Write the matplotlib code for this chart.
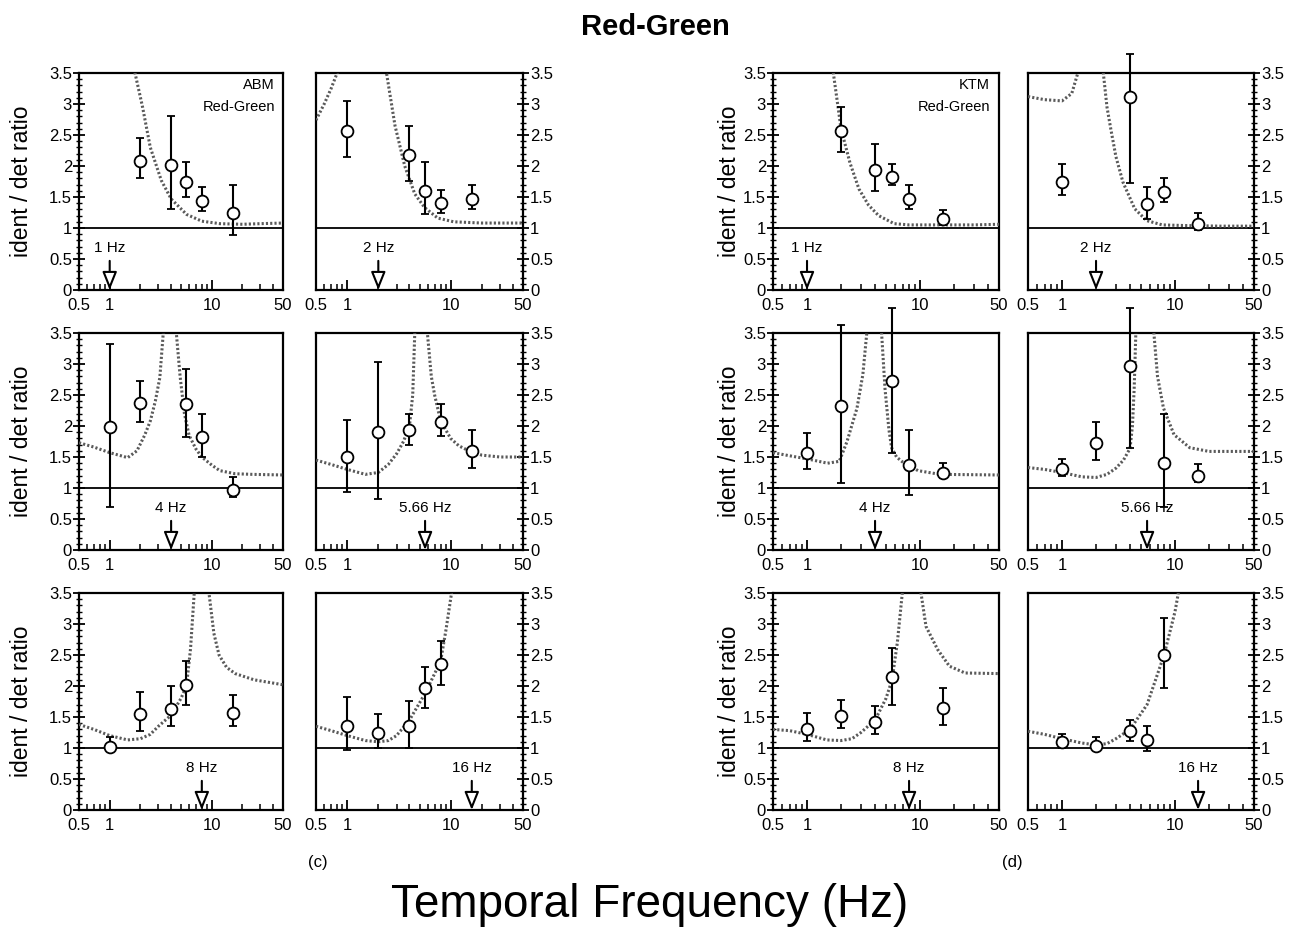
import numpy as np
import matplotlib
matplotlib.use("Agg")
import matplotlib.pyplot as plt
from matplotlib.ticker import FixedLocator, FixedFormatter, MultipleLocator

plt.rcParams['font.family'] = ['Liberation Sans', 'DejaVu Sans']

nan = np.nan

# ---------------- data ----------------
adapt_freqs = [1, 2, 4, 5.66, 8, 16]
adapt_labels = ['1 Hz', '2 Hz', '4 Hz', '5.66 Hz', '8 Hz', '16 Hz']

x_ticks = [0.5, 1, 10, 50]
x_ticklabels = ['0.5', '1', '10', '50']
y_ticks = [0, 0.5, 1, 1.5, 2, 2.5, 3, 3.5]
y_ticklabels = ['0', '0.5', '1', '1.5', '2', '2.5', '3', '3.5']

# ABM (c)
abm1_x = [2, 4, 5.66, 8, 16]
abm1_y = [2.08, 2.02, 1.75, 1.43, 1.25]
abm1_lo = [1.80, 1.30, 1.50, 1.28, 0.88]
abm1_hi = [2.45, 2.80, 2.06, 1.66, 1.70]
abm1_cx = [1.65, 1.77, 2.1, 2.5, 3.2, 4, 5.66, 8, 12, 20, 30, 50]
abm1_cy = [4.2, 3.5, 2.95, 2.3, 1.77, 1.47, 1.22, 1.11, 1.07, 1.06, 1.07, 1.08]

abm2_x = [1, 4, 5.66, 8, 16]
abm2_y = [2.57, 2.17, 1.60, 1.40, 1.47]
abm2_lo = [2.15, 1.76, 1.22, 1.25, 1.30]
abm2_hi = [3.05, 2.65, 2.07, 1.61, 1.70]
abm2_cx = [0.5, 0.6, 0.7, 0.8, 0.86, nan, 2.3, 2.4, 2.9, 3.6, 4.5, 5.6, 7.5, 10.7, 20, 50]
abm2_cy = [2.74, 3.0, 3.25, 3.5, 3.7, nan, 3.9, 3.5, 2.65, 2.0, 1.55, 1.33, 1.16, 1.1, 1.08, 1.08]

abm3_x = [1, 2, 5.66, 8, 16]
abm3_y = [1.98, 2.37, 2.35, 1.82, 0.97]
abm3_lo = [0.70, 2.07, 1.83, 1.50, 0.85]
abm3_hi = [3.33, 2.73, 2.92, 2.20, 1.17]
abm3_cx = [0.5, 0.7, 1, 1.5, 1.85, 2.2, 2.5, 2.8, 3.1, 3.35, 3.6, nan,
           4.3, 4.5, 4.9, 5.4, 6, 7, 8, 10, 12, 17, 25, 50]
abm3_cy = [1.73, 1.66, 1.57, 1.49, 1.6, 1.85, 2.08, 2.4, 2.78, 3.5, 4.5, nan,
           4.5, 3.5, 2.8, 2.2, 1.85, 1.63, 1.5, 1.37, 1.28, 1.23, 1.22, 1.21]

abm4_x = [1, 2, 4, 8, 16]
abm4_y = [1.50, 1.90, 1.93, 2.06, 1.60]
abm4_lo = [0.93, 0.82, 1.70, 1.84, 1.33]
abm4_hi = [2.10, 3.03, 2.20, 2.35, 1.93]
abm4_cx = [0.5, 0.7, 1, 1.5, 2, 2.5, 3, 3.5, 4, 4.3, 4.5, 4.7, nan,
           5.7, 5.96, 6.5, 7, 8, 10, 12, 15, 20, 30, 50]
abm4_cy = [1.45, 1.38, 1.3, 1.22, 1.25, 1.38, 1.55, 1.75, 2.0, 2.5, 3.5, 4.5, nan,
           4.5, 3.5, 2.8, 2.5, 2.08, 1.8, 1.68, 1.6, 1.53, 1.5, 1.5]

abm5_x = [1, 2, 4, 5.66, 16]
abm5_y = [1.02, 1.55, 1.63, 2.01, 1.57]
abm5_lo = [0.97, 1.28, 1.36, 1.69, 1.35]
abm5_hi = [1.18, 1.90, 2.00, 2.40, 1.85]
abm5_cx = [0.5, 0.7, 1, 1.5, 2, 2.5, 3, 4, 5, 5.66, 6.2, 6.74, 7.1, nan,
           8.9, 9.4, 10.5, 11.8, 14, 17, 26, 50]
abm5_cy = [1.38, 1.3, 1.2, 1.13, 1.15, 1.22, 1.35, 1.53, 1.8, 2.0, 2.6, 3.5, 4.5, nan,
           4.5, 3.5, 2.85, 2.5, 2.3, 2.2, 2.1, 2.02]

abm6_x = [1, 2, 4, 5.66, 8]
abm6_y = [1.36, 1.25, 1.35, 1.96, 2.35]
abm6_lo = [0.97, 1.00, 1.00, 1.65, 2.02]
abm6_hi = [1.82, 1.55, 1.76, 2.30, 2.72]
abm6_cx = [0.5, 0.7, 1, 1.5, 2, 2.5, 3, 4, 5.66, 8, 9, 10.2, 11]
abm6_cy = [1.35, 1.28, 1.2, 1.12, 1.1, 1.12, 1.2, 1.45, 1.88, 2.4, 2.9, 3.5, 4.2]

# KTM (d)
ktm1_x = [2, 4, 5.66, 8, 16]
ktm1_y = [2.57, 1.93, 1.83, 1.46, 1.15]
ktm1_lo = [2.23, 1.60, 1.70, 1.30, 1.05]
ktm1_hi = [2.95, 2.35, 2.04, 1.69, 1.29]
ktm1_cx = [1.6, 1.71, 2, 2.4, 2.88, 3.5, 4.3, 5.9, 8, 15, 30, 50]
ktm1_cy = [4.2, 3.5, 2.6, 2.05, 1.63, 1.37, 1.2, 1.07, 1.05, 1.05, 1.05, 1.06]

ktm2_x = [1, 4, 5.66, 8, 16]
ktm2_y = [1.75, 3.12, 1.38, 1.58, 1.07]
ktm2_lo = [1.53, 1.73, 1.15, 1.42, 0.97]
ktm2_hi = [2.03, 3.80, 1.66, 1.80, 1.24]
ktm2_cx = [0.5, 0.7, 1.0, 1.22, 1.38, 1.5, nan,
           2.2, 2.32, 2.5, 2.7, 3.0, 3.46, 4.4, 5.6, 7.7, 12, 25, 50]
ktm2_cy = [3.12, 3.07, 3.05, 3.17, 3.5, 3.9, nan,
           4.2, 3.5, 2.95, 2.6, 2.15, 1.74, 1.31, 1.12, 1.05, 1.04, 1.03, 1.03]

ktm3_x = [1, 2, 5.66, 8, 16]
ktm3_y = [1.57, 2.32, 2.73, 1.37, 1.25]
ktm3_lo = [1.30, 1.08, 1.56, 0.88, 1.16]
ktm3_hi = [1.88, 3.63, 3.90, 1.93, 1.40]
ktm3_cx = [0.5, 0.7, 1, 1.52, 1.93, 2.26, 2.77, 3.12, 3.38, 3.55, nan,
           4.4, 4.57, 4.9, 5.3, 5.6, 6.2, 7, 9.6, 15, 50]
ktm3_cy = [1.57, 1.52, 1.47, 1.4, 1.43, 1.75, 2.29, 2.83, 3.5, 4.2, nan,
           4.2, 3.5, 2.6, 1.95, 1.65, 1.5, 1.42, 1.28, 1.22, 1.21]

ktm4_x = [1, 2, 4, 8, 16]
ktm4_y = [1.30, 1.72, 2.97, 1.41, 1.20]
ktm4_lo = [1.20, 1.45, 1.65, 0.70, 1.10]
ktm4_hi = [1.47, 2.06, 3.90, 2.20, 1.39]
ktm4_cx = [0.5, 0.7, 1, 1.5, 2, 2.5, 3, 3.5, 4, 4.2, 4.35, 4.5, 4.65, nan,
           6.3, 6.5, 7, 7.9, 9.8, 13.5, 20, 50]
ktm4_cy = [1.33, 1.3, 1.25, 1.18, 1.17, 1.22, 1.32, 1.45, 1.64, 2.0, 2.6, 3.5, 4.2, nan,
           4.2, 3.5, 2.8, 2.29, 1.86, 1.65, 1.59, 1.59]

ktm5_x = [1, 2, 4, 5.66, 16]
ktm5_y = [1.31, 1.52, 1.42, 2.14, 1.65]
ktm5_lo = [1.12, 1.33, 1.22, 1.70, 1.37]
ktm5_hi = [1.56, 1.77, 1.68, 2.62, 1.97]
ktm5_cx = [0.5, 0.7, 1, 1.5, 2, 2.5, 3, 4, 5, 5.66, 6.3, 6.97, 7.3, nan,
           9.8, 10.2, 11.3, 14.3, 18.2, 25, 50]
ktm5_cy = [1.3, 1.28, 1.22, 1.13, 1.12, 1.15, 1.25, 1.45, 1.8, 2.1, 2.7, 3.5, 4.2, nan,
           4.2, 3.5, 2.96, 2.59, 2.32, 2.21, 2.2]

ktm6_x = [1, 2, 4, 5.66, 8]
ktm6_y = [1.10, 1.03, 1.28, 1.13, 2.50]
ktm6_lo = [1.00, 0.96, 1.12, 0.95, 1.97]
ktm6_hi = [1.22, 1.17, 1.45, 1.36, 3.10]
ktm6_cx = [0.5, 0.7, 1, 1.5, 2, 2.5, 3, 4, 5.66, 8, 10, 10.7, 11.3]
ktm6_cy = [1.27, 1.22, 1.15, 1.08, 1.05, 1.07, 1.15, 1.3, 1.7, 2.5, 3.2, 3.5, 3.9]

abm_panels = [
    (abm1_x, abm1_y, abm1_lo, abm1_hi, abm1_cx, abm1_cy),
    (abm2_x, abm2_y, abm2_lo, abm2_hi, abm2_cx, abm2_cy),
    (abm3_x, abm3_y, abm3_lo, abm3_hi, abm3_cx, abm3_cy),
    (abm4_x, abm4_y, abm4_lo, abm4_hi, abm4_cx, abm4_cy),
    (abm5_x, abm5_y, abm5_lo, abm5_hi, abm5_cx, abm5_cy),
    (abm6_x, abm6_y, abm6_lo, abm6_hi, abm6_cx, abm6_cy),
]
ktm_panels = [
    (ktm1_x, ktm1_y, ktm1_lo, ktm1_hi, ktm1_cx, ktm1_cy),
    (ktm2_x, ktm2_y, ktm2_lo, ktm2_hi, ktm2_cx, ktm2_cy),
    (ktm3_x, ktm3_y, ktm3_lo, ktm3_hi, ktm3_cx, ktm3_cy),
    (ktm4_x, ktm4_y, ktm4_lo, ktm4_hi, ktm4_cx, ktm4_cy),
    (ktm5_x, ktm5_y, ktm5_lo, ktm5_hi, ktm5_cx, ktm5_cy),
    (ktm6_x, ktm6_y, ktm6_lo, ktm6_hi, ktm6_cx, ktm6_cy),
]

# ---------------- layout (pixels) ----------------
W, H = 1297, 936
fig = plt.figure(figsize=(W / 100, H / 100), dpi=100)

row_tops = [73, 333, 593]
row_h = 217
groups = [
    dict(name='ABM', panels=abm_panels, cols=[(79, 204), (316, 207)], ylab_x=22, tag='(c)', tag_x=318),
    dict(name='KTM', panels=ktm_panels, cols=[(773, 226), (1028, 226)], ylab_x=729, tag='(d)', tag_x=1012),
]

minor_x = [0.6, 0.7, 0.8, 0.9, 2, 3, 4, 5, 6, 7, 8, 9, 20, 30, 40]

for g in groups:
    for r in range(3):
        for c in range(2):
            k = 2 * r + c
            left, width = g['cols'][c]
            top = row_tops[r]
            ax = fig.add_axes([left / W, 1 - (top + row_h) / H, width / W, row_h / H])
            xs, ys, lo, hi, cx, cy = g['panels'][k]
            ax.set_xscale('log')
            ax.set_xlim(0.5, 50)
            ax.set_ylim(0, 3.5)

            ax.axhline(1.0, color='black', lw=1.3, zorder=2)
            ax.plot(cx, cy, color='#5a5a5a', lw=2.2, ls=(0, (0.7, 0.7)), zorder=3)
            ys_a = np.array(ys)
            yerr = np.vstack([ys_a - np.array(lo), np.array(hi) - ys_a])
            ax.errorbar(xs, ys, yerr=yerr, fmt='o', ms=8.5, mfc='white', mec='black', mew=1.3,
                        ecolor='black', elinewidth=1.5, capsize=3.2, capthick=1.4,
                        zorder=5, clip_on=False)

            f = adapt_freqs[k]
            ax.annotate('', xy=(f, 0.0), xytext=(f, 0.47),
                        arrowprops=dict(arrowstyle='-|>,head_length=0.55,head_width=0.22',
                                        mutation_scale=20, fc='white', ec='black', lw=1.5,
                                        shrinkA=0, shrinkB=0), zorder=6)
            ax.text(f, 0.68, adapt_labels[k], ha='center', va='center', fontsize=11)

            # axes styling
            for s in ax.spines.values():
                s.set_linewidth(1.6)
            ax.xaxis.set_major_locator(FixedLocator(x_ticks))
            ax.xaxis.set_major_formatter(FixedFormatter(x_ticklabels))
            ax.xaxis.set_minor_locator(FixedLocator(minor_x))
            ax.xaxis.set_minor_formatter(FixedFormatter([''] * len(minor_x)))
            ax.tick_params(axis='x', which='major', direction='in', length=7, width=1.3,
                           labelsize=12, pad=6)
            ax.tick_params(axis='x', which='minor', direction='in', length=4, width=1.1)
            ax.yaxis.set_major_locator(FixedLocator(y_ticks))
            ax.yaxis.set_major_formatter(FixedFormatter(y_ticklabels))
            ax.yaxis.set_minor_locator(MultipleLocator(0.1))
            ax.tick_params(axis='y', which='major', direction='inout', length=8, width=1.3,
                           labelsize=12, pad=1)
            ax.tick_params(axis='y', which='minor', direction='inout', length=4, width=1.0)
            if c == 1:
                ax.yaxis.tick_right()
                ax.tick_params(axis='y', which='both', left=False, right=True,
                               labelleft=False, labelright=True)
            else:
                ax.tick_params(axis='y', which='both', left=True, right=False)

            if k == 0:
                ax.text(0.96, 0.945, g['name'], transform=ax.transAxes, ha='right',
                        va='center', fontsize=10.5)
                ax.text(0.96, 0.845, 'Red-Green', transform=ax.transAxes, ha='right',
                        va='center', fontsize=10.5)

        fig.text(g['ylab_x'] / W, 1 - (row_tops[r] + row_h / 2) / H, 'ident / det ratio',
                 rotation=90, ha='center', va='center', fontsize=16.5)
    fig.text(g['tag_x'] / W, 1 - 862 / H, g['tag'], ha='center', va='center', fontsize=12)

fig.text(655 / W, 1 - 27 / H, 'Red-Green', ha='center', va='center', fontsize=21,
         fontweight='bold')
fig.text(650 / W, 1 - 905 / H, 'Temporal Frequency (Hz)', ha='center', va='center',
         fontsize=33)

fig.savefig('out.png', dpi=100)
